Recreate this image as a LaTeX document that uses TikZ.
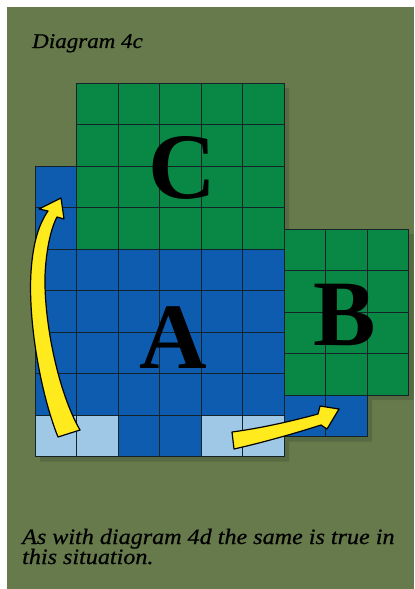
\documentclass[tikz,border=0pt]{standalone}
\usepackage{fontspec}
\setmainfont{Liberation Serif}
\newfontfamily\capfont[FakeStretch=1.1,FakeBold=0.6]{Liberation Serif}
\definecolor{bg}{RGB}{102,122,76}
\definecolor{cgreen}{RGB}{8,136,68}
\definecolor{cblue}{RGB}{14,92,176}
\definecolor{clight}{RGB}{158,200,230}
\definecolor{cline}{RGB}{20,35,40}
\definecolor{cyel}{RGB}{255,234,30}
\tikzset{
  gcell/.style={fill=cgreen, draw=cline, line width=0.8bp},
  bcell/.style={fill=cblue, draw=cline, line width=0.8bp},
  lcell/.style={fill=clight, draw=cline, line width=0.8bp},
  bigletter/.style={font=\fontsize{94}{94}\selectfont\bfseries, inner sep=0pt, text=black},
  yarrow/.style={fill=cyel, draw=black, line width=1.2bp, line join=round},
  caption/.style={font=\capfont\itshape\fontsize{22}{26}\selectfont, inner sep=0pt, anchor=base west, text=black},
  shadowfill/.style={fill=black, opacity=0.13}
}
\begin{document}
\begin{tikzpicture}[x=1bp,y=-1bp]
  \useasboundingbox (0,0) rectangle (414,589);
  \fill[white] (0,0) rectangle (414,589);
  \fill[bg] (7,7) rectangle (414,589);
  % shadow of the blocks
  \fill[shadowfill, shift={(5,5)}] (76.5,83) -- (284,83) -- (284,229) -- (408.5,229) -- (408.5,395)
     -- (367,395) -- (367,436.5) -- (284,436.5) -- (284,456.5) -- (35,456.5) -- (35,166) -- (76.5,166) -- cycle;
  % block C
  \foreach \i in {0,...,4}{\foreach \j in {0,...,3}{
    \draw[gcell] ({76.5+41.5*\i},{83+41.5*\j}) rectangle ++(41.5,41.5);}}
  % blue strip left of C
  \foreach \j in {0,1}{\draw[bcell] (35,{166+41.5*\j}) rectangle ++(41.5,41.5);}
  % block A
  \foreach \i in {0,...,5}{\foreach \j in {0,...,3}{
    \draw[bcell] ({35+41.5*\i},{249+41.5*\j}) rectangle ++(41.5,41.5);}}
  \foreach \i in {0,1,4,5}{\draw[lcell] ({35+41.5*\i},415) rectangle ++(41.5,41.5);}
  \foreach \i in {2,3}{\draw[bcell] ({35+41.5*\i},415) rectangle ++(41.5,41.5);}
  % block B
  \foreach \i in {0,...,2}{\foreach \j in {0,...,3}{
    \draw[gcell] ({284+41.5*\i},{229+41.5*\j}) rectangle ++(41.5,41.5);}}
  \foreach \i in {0,1}{\draw[bcell] ({284+41.5*\i},395) rectangle ++(41.5,41.5);}
  % letters
  \node[bigletter] (lC) at (182,168) {C};
  \node[bigletter] (lA) at (173,338) {A};
  \node[bigletter] (lB) at (345,315) {B};
  % arrow 1 (up the left side)
  \draw[yarrow] (58,437) .. controls (40,392) and (28,320) .. (31,272)
     .. controls (33,242) and (39,224) .. (48,211)
     -- (39,209) -- (61,198) -- (64,219) -- (57,217)
     .. controls (51,228) and (46,250) .. (45,276)
     .. controls (44,322) and (58,392) .. (80,430) -- cycle;
  % arrow 2 (to the right, under B)
  \draw[yarrow] (232,432) .. controls (262,428) and (292,421) .. (318,414)
     -- (320,406) -- (339,409) -- (327,429) -- (321,425)
     .. controls (296,433) and (265,442) .. (234,449) -- cycle;
  % captions
  \node[caption, font=\capfont\itshape\fontsize{21}{24}\selectfont] (title) at (32,48) {Diagram 4c};
  \node[caption] (cap1) at (22,544) {As with diagram 4d the same is true in};
  \node[caption] (cap2) at (22,564) {this situation.};
\end{tikzpicture}
\end{document}
